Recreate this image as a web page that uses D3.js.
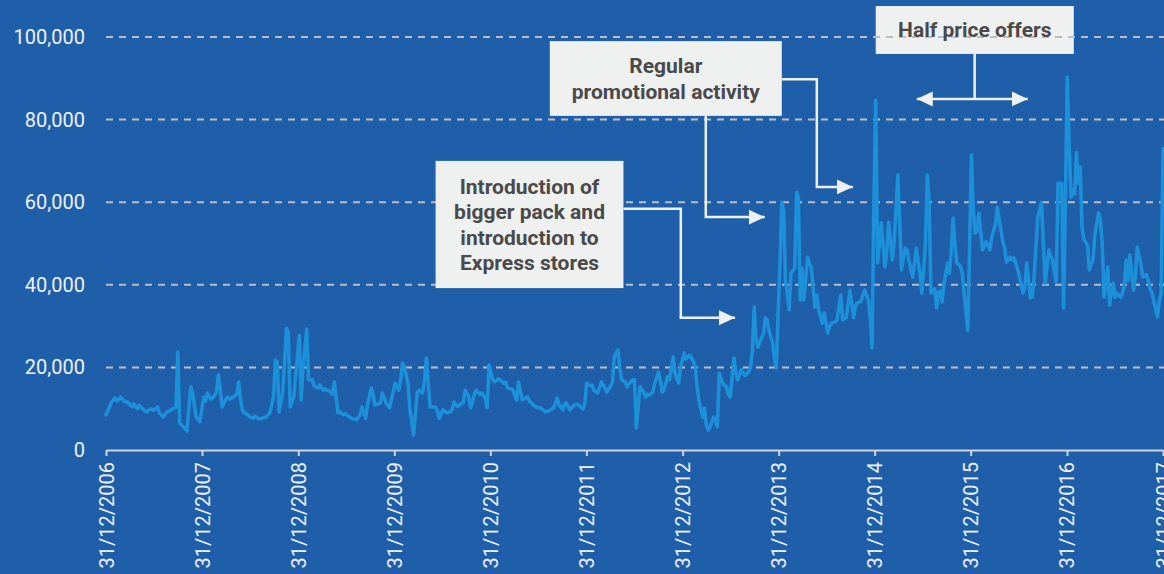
<!DOCTYPE html>
<html>
<head>
<meta charset="utf-8">
<script src="https://cdn.jsdelivr.net/npm/d3@7"></script>
<style>
  html, body { margin: 0; padding: 0; background: #1f5ea9; overflow: hidden; }
  svg { display: block; font-family: Roboto, "Open Sans", sans-serif; }
</style>
</head>
<body>
<svg id="chart"></svg>
<script>
const width = 1164;
const height = 574;

// x axis: year ends, weekly series counted in weeks from 31/12/2006
const yearEnds = [2006, 2007, 2008, 2009, 2010, 2011, 2012, 2013, 2014, 2015, 2016, 2017];
const yTicks = [0, 20000, 40000, 60000, 80000, 100000];

// [week number, units sold]
const weekly = [
  [0,8500],[2,10500],[3,11600],[5,12600],[6,11800],[8,12800],[10,11800],[12,11500],[14,10500],[15,11200],
  [17,10000],[18,10800],[21,9500],[22,9200],[24,10000],[26,9600],[28,10400],[29,9000],[31,8000],[33,9200],
  [35,9600],[36,10000],[38,10300],[39,23700],[40,6500],[42,5600],[44,4600],[46,15300],[47,13800],[49,8000],
  [51,6800],[53,12800],[54,11800],[55,13800],[57,12300],[58,12600],[60,14000],[61,18200],[62,15000],[63,10400],
  [65,12300],[66,12800],[67,12300],[69,12800],[71,13500],[72,16500],[73,12500],[74,9700],[75,9000],[77,8500],
  [78,8000],[80,7700],[81,8200],[83,7500],[85,7700],[87,8000],[89,9000],[91,13000],[92,21800],[93,21300],
  [94,9200],[96,14000],[98,29500],[99,28500],[100,10400],[102,13000],[105,27800],[106,12100],[107,20000],[109,29300],
  [110,17000],[112,17000],[113,15500],[115,15000],[116,15800],[118,14500],[119,14800],[122,14000],[123,13500],[124,16500],
  [126,9000],[127,9200],[129,8500],[130,8800],[132,8000],[134,7600],[136,7300],[138,8500],[139,10400],[141,7700],
  [142,11000],[144,15000],[145,13500],[146,10900],[148,11200],[149,11400],[150,13800],[152,11500],[154,10200],[157,16200],
  [159,14500],[160,17000],[161,21000],[162,20100],[164,16200],[165,10000],[167,3600],[169,13800],[170,14500],[172,13800],
  [173,17000],[174,22300],[176,10400],[179,10400],[180,9500],[181,7700],[183,9700],[185,9000],[187,9200],[188,9800],
  [189,11600],[191,10500],[192,10900],[194,11500],[195,14500],[197,13000],[198,10200],[199,11600],[200,13500],[201,14500],
  [203,13500],[204,13800],[206,12500],[207,10200],[208,20600],[210,17000],[211,16500],[213,17200],[214,17000],[216,16200],
  [217,16500],[218,15000],[220,14800],[221,14500],[223,12100],[224,16500],[226,12100],[227,12400],[229,12800],[230,11800],
  [232,10900],[234,10300],[236,10200],[238,9500],[239,9200],[241,9600],[243,10200],[244,11200],[245,12600],[246,11000],
  [248,9700],[249,11000],[250,11400],[251,10500],[252,9700],[254,10800],[256,11100],[257,10800],[259,9900],[260,11000],
  [261,16200],[263,15500],[264,15700],[265,14500],[267,13800],[268,15200],[269,16500],[271,15000],[272,14000],[274,15500],
  [275,16200],[276,22500],[278,24200],[279,20000],[280,17000],[282,16500],[283,15300],[284,16000],[286,17000],[287,17000],
  [288,5300],[290,15300],[292,14000],[293,12800],[294,13500],[295,13300],[297,14000],[298,16200],[300,18900],[301,17000],
  [302,14000],[303,14500],[305,17700],[306,17000],[308,22500],[309,18500],[311,16200],[312,20100],[314,23500],[315,22000],
  [317,23000],[319,21500],[320,20100],[321,15300],[322,12000],[324,8000],[325,10200],[326,6000],[327,4800],[328,5500],
  [330,8000],[331,7000],[332,5600],[333,18600],[335,16000],[337,15300],[338,13500],[339,12800],[341,22300],[342,19000],
  [343,17000],[345,19500],[346,18600],[347,18000],[349,18900],[350,20000],[351,24200],[352,34600],[353,27000],[354,24900],
  [355,26000],[356,27300],[357,28000],[358,32000],[359,31500],[360,29000],[362,25900],[363,22000],[364,19800],[365,33200],
  [366,45000],[367,60000],[368,58000],[369,41100],[371,33900],[372,42800],[374,44000],[375,62400],[376,61200],[377,36300],
  [378,44000],[379,36300],[381,46700],[382,45000],[383,44300],[385,34600],[386,37500],[387,34000],[389,30700],[390,33200],
  [392,28300],[393,30000],[394,30700],[396,31000],[397,31500],[399,37500],[400,31500],[402,32000],[404,38700],[406,32000],
  [407,35000],[408,35600],[410,36000],[412,38700],[414,36300],[415,32000],[416,24700],[417,60000],[418,84700],[419,45300],
  [420,50000],[421,55000],[423,44300],[424,48000],[425,55200],[427,46000],[428,50400],[430,66600],[431,55000],[432,43600],
  [434,48900],[435,48400],[436,46000],[438,41900],[439,45000],[440,48900],[442,43000],[443,38000],[444,43600],[445,50000],
  [446,66600],[447,60000],[448,38000],[450,39000],[451,34400],[452,38200],[453,38500],[454,35800],[455,40000],[457,45300],
  [458,42800],[459,48000],[460,56200],[461,50000],[462,45300],[464,44500],[465,42800],[466,38000],[468,29000],[469,50000],
  [470,71400],[471,58000],[472,52500],[473,53000],[474,57400],[475,53000],[476,48400],[477,49500],[478,50400],[480,48400],
  [481,51600],[483,54500],[484,58800],[485,56000],[487,50400],[488,49000],[489,45500],[490,46000],[491,46700],[492,46000],
  [493,46500],[495,44000],[496,41900],[498,38000],[499,40000],[500,45300],[502,36800],[503,37000],[504,42000],[506,56400],
  [507,58000],[508,60000],[510,40400],[511,44000],[512,48400],[513,47000],[514,46000],[515,43000],[516,40700],[517,64600],
  [519,64600],[520,34400],[521,60000],[522,90300],[523,75000],[524,61200],[525,63000],[526,62000],[527,72100],[528,64600],
  [529,68500],[530,54000],[531,51000],[533,49600],[534,43600],[535,45000],[536,46000],[537,52000],[539,57400],[540,55700],
  [541,50000],[542,37000],[543,40000],[544,44300],[545,35100],[546,38000],[547,40400],[548,37000],[549,38000],[551,37000],
  [552,38000],[553,40000],[554,46000],[555,41000],[556,47200],[558,38700],[559,42000],[560,49100],[562,45000],[563,41900],
  [565,42500],[566,41100],[567,39000],[568,38000],[571,32200],[572,36000],[573,38000],[574,73000]
];

// callout texts
const packNote = ['Introduction of', 'bigger pack and', 'introduction to', 'Express stores'];
const promoNote = ['Regular', 'promotional activity'];
const halfNote = ['Half price offers'];

const start = new Date(2006, 11, 31);
const weekDate = w => d3.timeDay.offset(start, w * 7);
const series = weekly.map(([w, v]) => ({ date: weekDate(w), value: v }));

const margin = { top: 37, right: 1, bottom: 124, left: 106 };

const x = d3.scaleTime()
  .domain([start, new Date(2017, 11, 31)])
  .range([margin.left, width - margin.right]);

const y = d3.scaleLinear()
  .domain([0, 100000])
  .range([height - margin.bottom, margin.top]);

const X = w => x(weekDate(w));

const svg = d3.select('#chart')
  .attr('width', width)
  .attr('height', height);

const boxFill = '#eff0f0';
const noteColor = '#4a4a4a';
const gridColor = '#b9bec6';

svg.append('rect')
  .attr('width', width)
  .attr('height', height)
  .attr('fill', '#1f5ea9');

const defs = svg.append('defs');
defs.append('marker')
  .attr('id', 'arrow')
  .attr('viewBox', '0 0 16 16')
  .attr('refX', 16)
  .attr('refY', 8)
  .attr('markerWidth', 16)
  .attr('markerHeight', 16)
  .attr('markerUnits', 'userSpaceOnUse')
  .attr('orient', 'auto-start-reverse')
  .append('path')
  .attr('d', 'M0,0.5L16,8L0,15.5Z')
  .attr('fill', boxFill);

// half price box sits under the grid
const halfBox = { w0: 418, w1: 525.6, v0: 107500, v1: 95900 };
svg.append('rect')
  .attr('x', X(halfBox.w0))
  .attr('y', y(halfBox.v0))
  .attr('width', X(halfBox.w1) - X(halfBox.w0))
  .attr('height', y(halfBox.v1) - y(halfBox.v0))
  .attr('fill', boxFill);

// grid
svg.append('g')
  .selectAll('line')
  .data(yTicks.filter(d => d > 0))
  .join('line')
  .attr('x1', margin.left)
  .attr('x2', width)
  .attr('y1', d => y(d))
  .attr('y2', d => y(d))
  .attr('stroke', gridColor)
  .attr('stroke-width', 2)
  .attr('stroke-dasharray', '7,6');

// y axis labels
const yAxis = svg.append('g')
  .attr('transform', `translate(${margin.left},0)`)
  .call(d3.axisLeft(y).tickValues(yTicks).tickSize(0).tickPadding(21).tickFormat(d3.format(',')));
yAxis.select('.domain').remove();
yAxis.selectAll('text')
  .attr('fill', '#eef2f8')
  .attr('font-size', 20)
  .attr('font-family', 'Roboto, sans-serif');

// x axis
const xAxis = svg.append('g')
  .attr('transform', `translate(0,${y(0)})`)
  .call(d3.axisBottom(x)
    .tickValues(yearEnds.map(yr => new Date(yr, 11, 31)))
    .tickSize(6)
    .tickSizeOuter(0)
    .tickFormat(d3.timeFormat('%d/%m/%Y')));
xAxis.select('.domain').attr('stroke', '#cfd4da').attr('stroke-width', 2);
xAxis.selectAll('.tick line').attr('stroke', '#cfd4da').attr('stroke-width', 2);
xAxis.selectAll('text')
  .attr('fill', '#eef2f8')
  .attr('font-size', 20)
  .attr('font-family', 'Roboto, sans-serif')
  .attr('text-anchor', 'end')
  .attr('transform', 'rotate(-90)')
  .attr('x', -12)
  .attr('y', 0)
  .attr('dy', '0.35em');

// the series
const line = d3.line()
  .x(d => x(d.date))
  .y(d => y(d.value));

svg.append('path')
  .datum(series)
  .attr('d', line)
  .attr('fill', 'none')
  .attr('stroke', '#1c91d9')
  .attr('stroke-width', 3.5)
  .attr('stroke-linejoin', 'round')
  .attr('stroke-linecap', 'round');

// callouts
const boxes = [
  { lines: packNote, w0: 179, w1: 281, v0: 70000, v1: 39200 },
  { lines: promoNote, w0: 241, w1: 367, v0: 99000, v1: 80900 },
  { lines: halfNote, w0: halfBox.w0, w1: halfBox.w1, v0: halfBox.v0, v1: halfBox.v1, noRect: true }
];

const connectors = [
  { pts: [[281, 58400], [312.2, 58400], [312.2, 32000], [341.6, 32000]] },
  { pts: [[367, 89800], [386, 89800], [386, 63700], [405.6, 63700]] },
  { pts: [[325.8, 80900], [325.8, 56400], [357.8, 56400]] },
  { pts: [[471.8, 95900], [471.8, 85000]], noArrow: true },
  { pts: [[440.3, 85000], [500.6, 85000]], both: true }
];

const connG = svg.append('g');
connectors.forEach(c => {
  connG.append('path')
    .attr('d', d3.line()(c.pts.map(([w, v]) => [X(w), y(v)])))
    .attr('fill', 'none')
    .attr('stroke', boxFill)
    .attr('stroke-width', 2.5)
    .attr('marker-end', c.noArrow ? null : 'url(#arrow)')
    .attr('marker-start', c.both ? 'url(#arrow)' : null);
});

const lineH = 25.5;
boxes.forEach(b => {
  const x0 = X(b.w0), x1 = X(b.w1), y0 = y(b.v0), y1 = y(b.v1);
  if (!b.noRect) {
    svg.append('rect')
      .attr('x', x0)
      .attr('y', y0)
      .attr('width', x1 - x0)
      .attr('height', y1 - y0)
      .attr('fill', boxFill);
  }
  const cy = (y0 + y1) / 2;
  const first = cy - (b.lines.length - 1) * lineH / 2;
  svg.append('g')
    .selectAll('text')
    .data(b.lines)
    .join('text')
    .attr('x', (x0 + x1) / 2)
    .attr('y', (d, i) => first + i * lineH)
    .attr('dy', '0.35em')
    .attr('text-anchor', 'middle')
    .attr('font-size', 21)
    .attr('font-weight', 'bold')
    .attr('fill', noteColor)
    .text(d => d);
});
</script>
</body>
</html>
